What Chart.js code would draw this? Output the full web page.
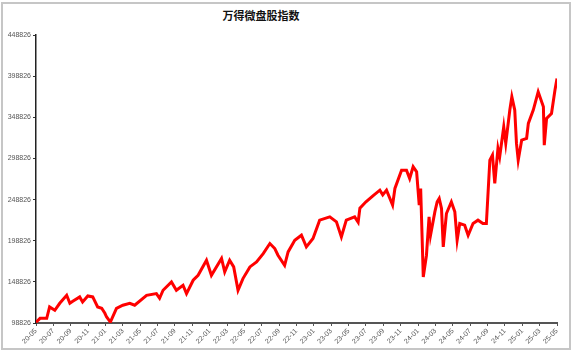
<!DOCTYPE html>
<html>
<head>
<meta charset="utf-8">
<script src="https://cdn.jsdelivr.net/npm/chart.js@4.4.1/dist/chart.umd.min.js"></script>
<style>
  body { margin: 0; background: #fff; }
  #frame { position: absolute; left: 1px; top: 2px; width: 566px; height: 344px; border: 2px solid #c6c6c6; }
  #title { position: absolute; left: 0; top: 7px; width: 522px; text-align: center;
           font: bold 11px "Noto Sans CJK SC", sans-serif; color: #111; }
  #wrap { position: absolute; left: 0; top: 0; width: 573px; height: 351px; }
</style>
</head>
<body>
<div id="frame"></div>
<div id="title">万得微盘股指数</div>
<div id="wrap"><canvas id="chart"></canvas></div>
<script>
// index level
var dates = [
  '2020-05-01','2020-05-15','2020-06-08','2020-06-18','2020-07-06','2020-07-23','2020-08-17','2020-08-28',
  '2020-09-08','2020-10-02','2020-10-12','2020-10-30','2020-11-17','2020-12-04','2020-12-18','2020-12-29',
  '2021-01-05','2021-01-18','2021-02-09','2021-03-01','2021-03-25','2021-04-12','2021-05-23','2021-06-27',
  '2021-07-08','2021-07-20','2021-08-19','2021-09-06','2021-09-29','2021-10-11','2021-11-04','2021-11-21',
  '2021-12-20','2022-01-07','2022-02-12','2022-02-23','2022-03-10','2022-03-24','2022-04-09','2022-04-26',
  '2022-05-20','2022-06-13','2022-07-06','2022-07-29','2022-08-16','2022-08-27','2022-09-20','2022-10-02',
  '2022-10-25','2022-11-18','2022-12-05','2022-12-28','2023-01-21','2023-02-26','2023-03-19','2023-04-06',
  '2023-04-23','2023-05-22','2023-06-04','2023-06-10','2023-07-01','2023-07-25','2023-08-19','2023-08-29',
  '2023-09-12','2023-10-03','2023-10-11','2023-11-04','2023-11-21','2023-12-02','2023-12-14','2023-12-26',
  '2024-01-05','2024-01-10','2024-01-19','2024-01-30','2024-02-09','2024-02-14','2024-02-29','2024-03-07',
  '2024-03-14','2024-03-22','2024-03-28','2024-04-09','2024-04-26','2024-05-08','2024-05-16','2024-05-25',
  '2024-06-12','2024-06-24','2024-07-11','2024-07-28','2024-08-15','2024-08-27','2024-09-09','2024-09-18',
  '2024-09-26','2024-10-07','2024-10-13','2024-10-27','2024-11-04','2024-11-18','2024-11-25','2024-12-05',
  '2024-12-11','2024-12-17','2024-12-29','2025-01-16','2025-01-22','2025-02-09','2025-02-26','2025-03-14',
  '2025-03-17','2025-03-25','2025-04-12','2025-04-24','2025-05-01'
];
var values = [
  99800,104500,104500,118300,114300,122800,132500,122800,
  125200,130500,124400,131700,130500,118300,116700,110600,
  106100,100000,116700,120400,122800,120400,132500,134600,
  128900,138600,148700,138600,144700,134600,150800,156800,
  175100,156800,177200,160900,175100,167000,138600,152800,
  167000,173000,183200,195400,189300,181200,169000,185200,
  199400,205500,191300,201500,223800,227800,221700,203500,
  223800,227800,221300,238400,246100,253400,260300,254600,
  260300,242100,262300,284600,284600,274400,288700,282600,
  242100,262300,154800,181200,227800,205500,233900,246100,
  250100,237900,191300,231900,246000,233900,199400,219700,
  217700,205500,219700,223800,219700,219700,296700,302800,
  268400,311000,300800,337300,317100,357600,373700,357600,
  317100,296700,321100,323100,341400,357600,379800,361600,
  315000,347400,353500,381900,396100
];
var yTicks = [98826, 148826, 198826, 248826, 298826, 348826, 398826, 448826];
var xLabels = [
  '20-05','20-07','20-09','20-11',
  '21-01','21-03','21-05','21-07','21-09','21-11',
  '22-01','22-03','22-05','22-07','22-09','22-11',
  '23-01','23-03','23-05','23-07','23-09','23-11',
  '24-01','24-03','24-05','24-07','24-09','24-11',
  '25-01','25-03','25-05'
];

// months since 2020-05
function monthIdx(s) {
  var p = s.split('-');
  return (+p[0] - 2020) * 12 + (+p[1] - 5) + (+p[2] - 1) / 30;
}

var points = dates.map(function (d, i) { return { x: monthIdx(d), y: values[i] }; });

new Chart(document.getElementById('chart'), {
  type: 'line',
  data: {
    datasets: [{
      data: points,
      borderColor: '#ff0000',
      borderWidth: 3,
      pointRadius: 0,
      tension: 0,
      fill: false
    }]
  },
  options: {
    responsive: true,
    maintainAspectRatio: false,
    animation: false,
    layout: { padding: { left: 0, right: 16, top: 35, bottom: 0 } },
    plugins: {
      legend: { display: false },
      title: { display: false },
      tooltip: { enabled: false }
    },
    scales: {
      x: {
        type: 'linear',
        min: 0,
        max: (xLabels.length - 1) * 2,
        grid: { drawOnChartArea: false, drawTicks: true, tickLength: 3, color: '#555' },
        border: { color: '#555', width: 2 },
        afterBuildTicks: function (s) {
          s.ticks = xLabels.map(function (l, i) { return { value: i * 2 }; });
        },
        afterFit: function (s) { s.height = 28; },
        ticks: {
          autoSkip: false,
          minRotation: 45,
          maxRotation: 45,
          padding: 1,
          color: '#555',
          font: { size: 7, family: 'Liberation Sans' },
          callback: function (v) { return xLabels[Math.round(v / 2)]; }
        }
      },
      y: {
        min: yTicks[0],
        max: yTicks[yTicks.length - 1],
        grid: { drawOnChartArea: false, drawTicks: true, tickLength: 3, color: '#333' },
        border: { color: '#222', width: 1.5 },
        afterBuildTicks: function (s) {
          s.ticks = yTicks.map(function (v) { return { value: v }; });
        },
        afterFit: function (s) { s.width = 36; },
        ticks: {
          padding: 2,
          color: '#555',
          font: { size: 7, family: 'Liberation Sans' },
          callback: function (v) { return String(v); }
        }
      }
    }
  }
});
</script>
</body>
</html>
